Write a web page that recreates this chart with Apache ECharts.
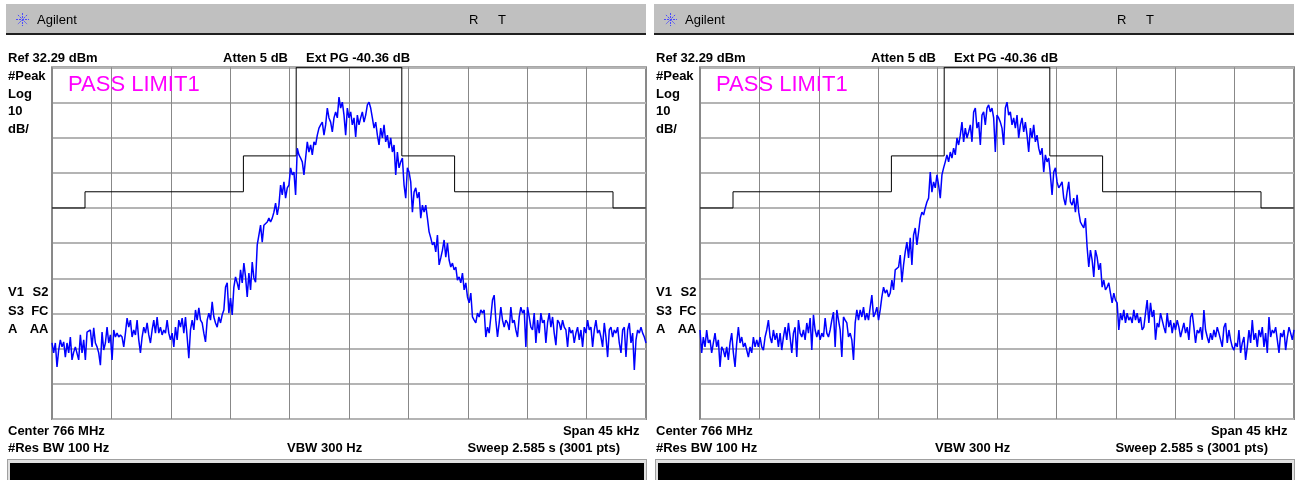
<!DOCTYPE html>
<html><head><meta charset="utf-8">
<script src="https://cdn.jsdelivr.net/npm/echarts@6/dist/echarts.min.js"></script>
<style>html,body{margin:0;padding:0;background:#fff}#c{width:1300px;height:480px}</style>
</head><body><div id="c"></div>
<script>
// ---- instrument settings ----
const refLevelDBm = 32.29;
const dbPerDiv = 10;
const yDivisions = 10;
const spanKHz = 45;
const xDivisions = 10;

// ---- limit line (kHz offset from center, dBm) ----
const limitFreqKHz = [-22.5, -20, -20, -8, -8, -4, -4, 4, 4, 8, 8, 20, 20, 22.5];
const limitLevelDBm = [-7.71, -7.71, -3.1, -3.1, 7.1, 7.1, 32.29, 32.29, 7.1, 7.1, -3.1, -3.1, -7.71, -7.71];

// ---- traces (dBm, evenly spaced across the span) ----
const traceLeft = [
-46.1,-48.9,-46.1,-52.9,-48.1,-45.2,-47.2,-45.8,-50.1,-46.1,
-48.9,-44.4,-50.9,-48.7,-47.2,-46.7,-50.9,-43.8,-48.9,-45.2,
-50.9,-43.0,-43.3,-42.4,-47.2,-41.8,-46.1,-47.2,-48.9,-52.4,
-43.0,-48.1,-46.1,-41.6,-46.1,-43.8,-50.9,-42.4,-44.4,-43.3,
-44.4,-43.8,-44.4,-47.2,-43.3,-39.0,-41.6,-39.6,-44.4,-42.4,
-43.8,-39.6,-45.2,-48.9,-44.4,-41.6,-43.3,-40.4,-43.8,-46.1,
-42.4,-39.6,-43.3,-38.7,-43.3,-41.6,-43.8,-42.4,-43.3,-39.6,
-43.3,-45.2,-43.3,-47.2,-41.6,-45.2,-39.6,-41.6,-39.0,-43.3,
-38.7,-44.4,-50.4,-42.4,-39.6,-42.4,-36.7,-39.6,-36.1,-39.6,
-40.4,-43.3,-45.8,-39.6,-37.6,-39.6,-34.4,-38.7,-40.4,-41.6,
-38.7,-40.4,-38.1,-36.7,-30.2,-29.0,-37.6,-33.3,-38.1,-30.2,
-27.3,-29.0,-31.0,-25.3,-29.0,-23.4,-27.3,-33.0,-26.2,-31.0,
-23.1,-27.6,-28.8,-18.2,-15.4,-12.6,-17.4,-12.6,-13.1,-11.7,
-10.6,-11.7,-10.6,-8.9,-6.3,-9.7,-6.9,-1.2,-4.0,-0.3,
-4.9,-2.0,-1.2,3.7,1.7,2.5,-4.0,9.3,7.4,6.5,
5.4,1.7,6.5,11.1,8.2,10.2,7.4,11.1,10.2,13.0,
15.0,15.9,16.7,13.0,15.9,20.7,17.9,16.7,13.9,17.9,
19.6,17.9,23.8,20.7,22.4,18.7,13.0,20.7,17.9,19.6,
15.9,17.9,12.5,18.7,15.9,17.9,19.6,16.7,18.7,21.6,
22.4,20.7,17.9,15.0,16.7,13.0,10.2,15.0,12.2,15.9,
11.1,13.0,9.3,12.2,8.2,10.2,1.7,8.2,3.7,5.4,
6.5,-1.2,-4.9,3.7,2.5,-0.3,-8.9,-3.2,-2.0,-4.9,
-3.2,-10.6,-6.9,-8.9,-6.9,-10.6,-14.5,-16.2,-18.2,-17.4,
-20.2,-15.4,-23.9,-21.9,
-19.7,-16.8,-21.7,-17.7,-22.5,-24.5,-23.4,-25.3,-24.5,-28.2,
-27.3,-29.0,-26.2,-31.0,-29.0,-33.0,-34.7,-31.9,-38.7,-39.6,
-40.4,-37.6,-38.7,-36.7,-37.6,-36.7,-44.4,-41.6,-43.3,-38.7,
-33.9,-32.5,-39.6,-44.4,-40.4,-35.9,-39.6,-41.6,-39.6,-40.4,
-42.4,-35.9,-40.4,-39.6,-42.4,-44.4,-38.7,-35.9,-37.6,-36.7,
-47.2,-35.9,-38.7,-41.6,-42.4,-37.6,-46.1,-39.6,-43.3,-37.6,
-40.4,-39.6,-46.1,-40.4,-37.6,-41.6,-38.7,-43.3,-46.7,-39.6,
-40.4,-42.4,-39.6,-41.6,-42.4,-47.2,-41.6,-43.3,-42.4,-46.1,
-43.3,-41.6,-45.2,-42.4,-47.2,-41.6,-43.3,-39.6,-42.4,-41.6,
-47.2,-42.4,-39.6,-43.3,-42.4,-44.4,-47.2,-40.4,-44.4,-50.1,
-42.4,-41.6,-44.4,-42.4,-43.3,-41.6,-46.1,-48.9,-42.4,-41.6,
-50.1,-42.4,-40.4,-46.1,-43.3,-53.8,-45.2,-42.4,-43.3,-41.6,
-43.3,-44.4,-46.1
];
const traceRight = [
-42.4,-48.9,-44.4,-47.2,-42.4,-46.1,-45.2,-48.9,-46.1,-43.3,
-47.2,-45.2,-52.9,-47.2,-48.1,-50.1,-47.2,-50.9,-46.1,-43.3,
-48.9,-52.9,-46.1,-41.6,-46.1,-44.4,-47.2,-46.1,-48.1,-50.1,
-47.2,-48.9,-44.4,-47.2,-45.2,-47.2,-44.4,-47.2,-48.1,-44.4,
-42.4,-39.6,-44.4,-46.1,-42.4,-45.2,-43.3,-47.2,-43.3,-48.1,
-44.4,-41.6,-45.2,-40.4,-44.4,-48.9,-43.3,-41.6,-50.1,-39.6,
-43.3,-44.4,-42.4,-45.2,-40.4,-43.3,-39.0,-48.1,-38.1,-42.4,
-44.4,-42.4,-45.2,-43.3,-44.4,-39.0,-43.3,-44.4,-42.4,-39.6,
-37.3,-47.2,-36.7,-39.6,-42.4,-50.1,-38.7,-39.6,-40.4,-44.4,
-43.3,-45.2,-50.9,-40.4,-36.7,-39.6,-36.7,-38.7,-35.9,-39.6,
-37.6,-39.6,-35.9,-32.5,-38.7,-37.6,-35.9,-39.6,-36.7,-33.0,
-30.2,-31.9,-31.0,-33.0,-31.9,-28.2,-31.0,-25.3,-25.3,-24.5,
-21.1,-28.8,-23.9,-20.2,-17.4,-21.9,-16.2,-23.9,-15.4,-13.4,
-18.2,-14.5,-10.6,-8.9,-9.7,-7.7,-6.0,-4.9,2.5,-3.2,
-0.3,-2.0,1.7,-1.2,-4.9,1.7,3.7,5.4,7.4,5.4,
8.2,6.5,9.3,7.4,12.2,10.2,13.0,16.7,11.1,15.0,
12.2,13.9,15.9,11.1,19.6,20.7,15.0,16.7,10.2,18.7,
19.6,15.9,20.7,21.6,19.6,20.7,17.9,8.2,18.7,17.9,
16.7,15.0,10.2,20.7,22.4,18.7,19.6,15.9,17.9,15.0,
18.7,12.2,15.9,17.9,13.9,16.7,13.0,8.2,15.0,12.2,
15.9,11.1,13.0,9.3,7.4,9.3,2.5,7.4,5.4,6.5,
1.7,-4.0,2.5,3.7,-0.3,-2.0,-1.2,-0.3,-4.9,-6.9,
-3.2,-0.3,-6.0,-6.9,-4.9,-8.9,-4.0,-8.9,-11.7,-12.6,
-13.4,-10.6,
-18.8,-24.5,-19.7,-22.5,-27.3,-19.7,-21.7,-25.3,-23.4,-30.2,
-28.2,-31.0,-30.2,-29.0,-31.9,-34.7,-31.9,-33.9,-34.7,-42.4,
-37.6,-39.6,-36.7,-40.4,-37.6,-39.6,-38.7,-40.4,-36.7,-39.6,
-37.6,-40.4,-38.7,-42.4,-41.6,-37.6,-33.9,-40.4,-34.7,-38.7,
-36.7,-45.2,-40.4,-41.6,-37.6,-39.6,-41.6,-43.3,-37.6,-41.6,
-39.6,-43.3,-40.4,-42.4,-39.6,-41.6,-44.4,-42.4,-40.4,-43.3,
-41.6,-45.2,-38.7,-37.6,-41.6,-46.1,-42.4,-43.3,-41.6,-45.2,
-36.7,-42.4,-44.4,-46.1,-43.3,-45.2,-42.4,-44.4,-41.6,-43.3,
-45.2,-47.2,-41.6,-40.4,-46.1,-42.4,-45.2,-47.2,-48.1,-46.1,
-47.2,-42.4,-48.9,-46.1,-44.4,-50.9,-47.2,-42.4,-46.1,-39.6,
-45.2,-43.3,-47.2,-42.4,-44.4,-41.6,-47.2,-43.3,-48.9,-38.7,
-44.4,-42.4,-43.3,-41.6,-45.2,-48.9,-43.3,-44.4,-42.4,-48.1,
-44.4,-41.6,-43.3,-45.2,-42.4
];

// ---- annotation texts ----
const brandText = 'Agilent';
const statusFlags = ['R', 'T'];
const refText = 'Ref 32.29 dBm';
const attenText = 'Atten 5 dB';
const extText = 'Ext PG -40.36 dB';
const scaleLabels = ['#Peak', 'Log', '10', 'dB/'];
const annunciators = [['V1', 'S2'], ['S3', 'FC'], ['A', 'AA']];
const centerText = 'Center 766 MHz';
const spanText = 'Span 45 kHz';
const rbwText = '#Res BW 100 Hz';
const vbwText = 'VBW 300 Hz';
const sweepText = 'Sweep 2.585 s (3001 pts)';
const verdictText = 'PASS LIMIT1';

// ---- build ----
const yMin = refLevelDBm - dbPerDiv * yDivisions;
const xMin = -spanKHz / 2, xMax = spanKHz / 2;
function toXY(arr) {
  const n = arr.length;
  return arr.map((v, i) => [xMin + (xMax - xMin) * i / (n - 1), v]);
}
const limitData = limitFreqKHz.map((f, i) => [f, limitLevelDBm[i]]);

const PANEL_DX = 648;
const plotLeft = 52, plotTop = 67.3, plotW = 594, plotH = 351.7;
const BOLD = 'bold 13px "Liberation Sans", Arial, sans-serif';
const NORMAL = '13px "Liberation Sans", Arial, sans-serif';

function txt(x, y, s, font, align, fill) {
  return { type: 'text', x: x, y: y, z: 100, silent: true,
    style: { text: s, font: font, fill: fill || '#000', textAlign: align || 'left',
             textVerticalAlign: 'middle', verticalAlign: 'middle' } };
}
function panelGraphics(dx) {
  const g = [];
  // title bar
  g.push({ type: 'rect', z: 1, silent: true, shape: { x: dx + 6, y: 4, width: 640, height: 29 }, style: { fill: '#c0c0c0' } });
  g.push({ type: 'rect', z: 2, silent: true, shape: { x: dx + 6, y: 33, width: 640, height: 2 }, style: { fill: '#202020' } });
  // star logo
  const cx = dx + 22.5, cy = 19.5, r = 6.5;
  for (let k = 0; k < 4; k++) {
    const a = k * Math.PI / 4;
    g.push({ type: 'line', z: 3, silent: true,
      shape: { x1: cx - r * Math.cos(a), y1: cy - r * Math.sin(a), x2: cx + r * Math.cos(a), y2: cy + r * Math.sin(a) },
      style: { stroke: '#4a4aff', lineWidth: 1, lineDash: [2, 1] } });
  }
  g.push(txt(dx + 37, 20, brandText, NORMAL));
  g.push(txt(dx + 469, 20, statusFlags[0], NORMAL));
  g.push(txt(dx + 498, 20, statusFlags[1], NORMAL));
  // header
  g.push(txt(dx + 8, 58, refText, BOLD));
  g.push(txt(dx + 223, 58, attenText, BOLD));
  g.push(txt(dx + 306, 58, extText, BOLD));
  const sy = [76, 94, 111.5, 129];
  scaleLabels.forEach((s, i) => g.push(txt(dx + 8, sy[i], s, BOLD)));
  const ay = [292.7, 311.3, 329.5];
  annunciators.forEach((p, i) => {
    g.push(txt(dx + 8, ay[i], p[0], BOLD));
    g.push(txt(dx + 48.5, ay[i], p[1], BOLD, 'right'));
  });
  g.push(txt(dx + 8, 431.3, centerText, BOLD));
  g.push(txt(dx + 639.5, 431.3, spanText, BOLD, 'right'));
  g.push(txt(dx + 8, 448.7, rbwText, BOLD));
  g.push(txt(dx + 287, 448.7, vbwText, BOLD));
  g.push(txt(dx + 620, 448.7, sweepText, BOLD, 'right'));
  g.push(txt(dx + 68, 84.5, verdictText, '22px "Liberation Sans", Arial, sans-serif', 'left', '#ff00ff'));
  // bottom bar
  g.push({ type: 'rect', z: 1, silent: true, shape: { x: dx + 7, y: 459, width: 640, height: 21 }, style: { fill: '#a0a0a0' } });
  g.push({ type: 'rect', z: 2, silent: true, shape: { x: dx + 8, y: 460, width: 638, height: 20 }, style: { fill: '#e0e0e0' } });
  g.push({ type: 'rect', z: 3, silent: true, shape: { x: dx + 10, y: 463, width: 634, height: 17 }, style: { fill: '#000' } });
  return g;
}

const grids = [0, 1].map(i => ({
  left: plotLeft + i * PANEL_DX, top: plotTop, width: plotW, height: plotH,
  show: true, borderColor: '#8a8a8a', borderWidth: 2, backgroundColor: '#fff'
}));
const xAxes = [0, 1].map(i => ({
  type: 'value', gridIndex: i, min: xMin, max: xMax, interval: spanKHz / xDivisions,
  axisLine: { show: false }, axisTick: { show: false }, axisLabel: { show: false },
  splitLine: { show: true, lineStyle: { color: '#888888', width: 1 } }
}));
const yAxes = [0, 1].map(i => ({
  type: 'value', gridIndex: i, min: yMin, max: refLevelDBm, interval: dbPerDiv,
  axisLine: { show: false }, axisTick: { show: false }, axisLabel: { show: false },
  splitLine: { show: true, lineStyle: { color: '#b4b4b4', width: 2 } }
}));
const series = [];
[traceLeft, traceRight].forEach((tr, i) => {
  series.push({ type: 'line', xAxisIndex: i, yAxisIndex: i, data: limitData, showSymbol: false,
    lineStyle: { color: '#000', width: 1 }, z: 3, animation: false, silent: true });
  series.push({ type: 'line', xAxisIndex: i, yAxisIndex: i, data: toXY(tr), showSymbol: false,
    lineStyle: { color: '#0000ff', width: 1.5 }, z: 4, animation: false, silent: true });
});

const chart = echarts.init(document.getElementById('c'), null, { renderer: 'canvas' });
chart.setOption({
  animation: false,
  backgroundColor: '#fff',
  grid: grids, xAxis: xAxes, yAxis: yAxes, series: series,
  graphic: { elements: panelGraphics(0).concat(panelGraphics(PANEL_DX)) }
});
</script></body></html>
